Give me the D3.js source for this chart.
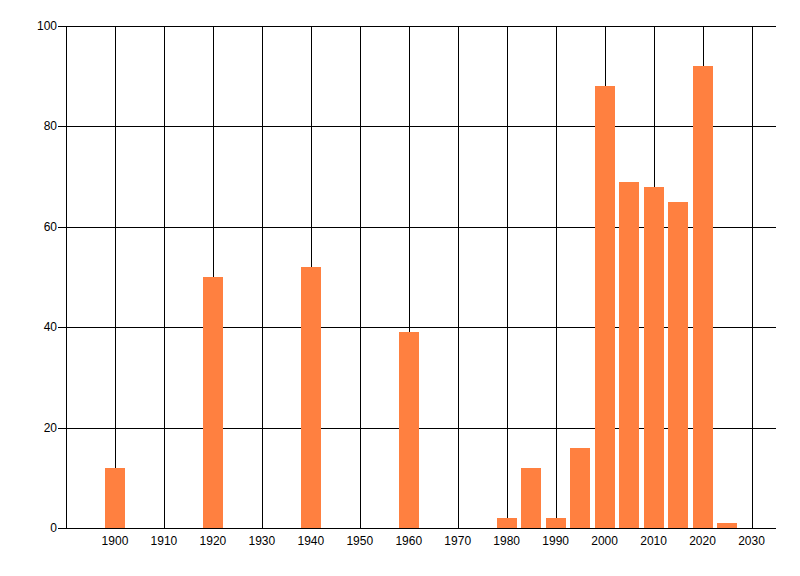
<!DOCTYPE html>
<html>
<head>
<meta charset="utf-8">
<script src="https://cdn.jsdelivr.net/npm/d3@7"></script>
<style>
  body { margin: 0; background: #fff; }
  text { font-family: "Liberation Sans", Arial, sans-serif; font-size: 12px; fill: #000; }
</style>
</head>
<body>
<svg id="chart" width="800" height="576"></svg>
<script>
// data
const years = [1900, 1920, 1940, 1960, 1980, 1985, 1990, 1995, 2000, 2005, 2010, 2015, 2020, 2025]
const counts = [12, 50, 52, 39, 2, 12, 2, 16, 88, 69, 68, 65, 92, 1]
const xTicks = [1900, 1910, 1920, 1930, 1940, 1950, 1960, 1970, 1980, 1990, 2000, 2010, 2020, 2030]
const yTicks = [0, 20, 40, 60, 80, 100]

const plotLeft = 66, plotRight = 776, plotTop = 26, plotBottom = 528

const svg = d3.select('#chart')

const xScale = d3.scaleLinear().domain([1890, 2035]).range([plotLeft, plotRight])
const yScale = d3.scaleLinear().domain([0, 100]).range([plotBottom, plotTop])

const barW = 20

// grid
svg.append('g').selectAll('line').data(xTicks).enter().append('line')
    .attr('x1', d => Math.round(xScale(d)) + 0.5).attr('x2', d => Math.round(xScale(d)) + 0.5)
    .attr('y1', plotTop).attr('y2', plotBottom).style('stroke', '#000')
svg.append('g').selectAll('line').data(yTicks).enter().append('line')
    .attr('x1', plotLeft - 8).attr('x2', plotRight)
    .attr('y1', d => Math.round(yScale(d)) + 0.5).attr('y2', d => Math.round(yScale(d)) + 0.5)
    .style('stroke', '#000')

// bars
svg.append('g').selectAll('rect').data(years).enter().append('rect')
    .attr('x', d => Math.round(xScale(d) - barW / 2))
    .attr('width', barW)
    .attr('y', (d, i) => Math.round(yScale(counts[i])))
    .attr('height', (d, i) => plotBottom - Math.round(yScale(counts[i])))
    .style('fill', '#ff8040')

// axis lines over bars
svg.append('line').attr('x1', plotLeft + 0.5).attr('x2', plotLeft + 0.5).attr('y1', plotTop).attr('y2', plotBottom).style('stroke', '#000')
svg.append('line').attr('x1', plotLeft - 8).attr('x2', plotRight).attr('y1', plotBottom + 0.5).attr('y2', plotBottom + 0.5).style('stroke', '#000')

// labels
svg.append('g').selectAll('text').data(yTicks).enter().append('text')
    .attr('x', plotLeft - 9).attr('y', d => yScale(d) + 4)
    .attr('text-anchor', 'end').text(d => d)
svg.append('g').selectAll('text').data(xTicks).enter().append('text')
    .attr('x', d => xScale(d)).attr('y', plotBottom + 17)
    .attr('text-anchor', 'middle').text(d => d)
</script>
</body>
</html>
